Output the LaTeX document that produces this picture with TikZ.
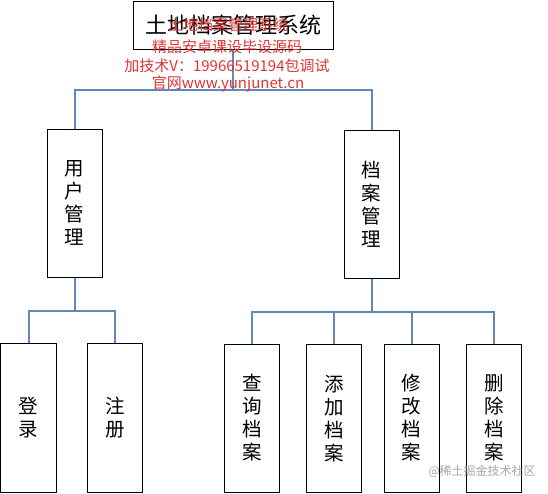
\documentclass[tikz,border=0pt]{standalone}
\usepackage{fontspec}
\setmainfont{Noto Sans CJK SC}
\usetikzlibrary{positioning}

\definecolor{linkblue}{RGB}{98,136,186}
\definecolor{wmred}{RGB}{226,52,52}

\tikzset{
  box/.style={rectangle, draw, color=black, line width=1pt, inner sep=0pt,
    align=center, font=\fontsize{19.5}{23}\selectfont},
  leaf/.style={box, minimum width=55pt, minimum height=148pt},
  link/.style={draw=linkblue, line width=2pt},
  wm/.style={text=wmred, font=\fontsize{15}{15}\selectfont}
}

\begin{document}
\begin{tikzpicture}[x=1pt, y=-1pt]
        \useasboundingbox (0,0) rectangle (548,493);

        \node[box, minimum width=200pt, minimum height=48pt, font=\fontsize{22}{22}\selectfont] (sys) at (233,25) {土地档案管理系统};
        \node[leaf] (user) at (74.5,203) {用\\户\\管\\理};
        \node[leaf] (arch) at (371.5,204) {档\\案\\管\\理};

        \node[leaf, minimum width=56pt, minimum height=149pt] (login) at (28.5,417.5) {登\\录};
        \node[leaf, minimum height=149pt] (reg) [right = 30pt of login] {注\\册};

        \node[leaf] (query) at (252,418) {查\\询\\档\\案};
        \node[leaf] (add) at (334,418.5) {添\\加\\档\\案};
        \node[leaf] (edit) at (411.5,418) {修\\改\\档\\案};
        \node[leaf] (del) at (494,418) {删\\除\\档\\案};

        % connectors
        \draw[link] (sys.south) -- ++(0,40) coordinate (busTop);
        \draw[link] (busTop) -| (user.north);
        \draw[link] (busTop) -| (arch.north);

        \draw[link] (user.south) -- ++(0,33) coordinate (busUser);
        \draw[link] (busUser) -| (login.north);
        \draw[link] (busUser) -| (reg.north);

        \draw[link] (arch.south) -- ++(0,33) coordinate (busArch);
        \foreach \leafNode in {query, add, edit, del}
          \draw[link] (busArch) -| (\leafNode.north);

        % watermarks
        \node[wm] (wmA) at (228,25) {土地档案管理系统};
        \node[wm] (wmB) at (227,47) {精品安卓课设毕设源码};
        \node[wm] (wmC) at (227,66) {加技术V：19966519194包调试};
        \node[wm] (wmD) at (228,84) {官网www.yunjunet.cn};
        \node[text=black!35, font=\fontsize{12}{12}\selectfont] (wmE) at (482,471) {@稀土掘金技术社区};
      \end{tikzpicture}
\end{document}
